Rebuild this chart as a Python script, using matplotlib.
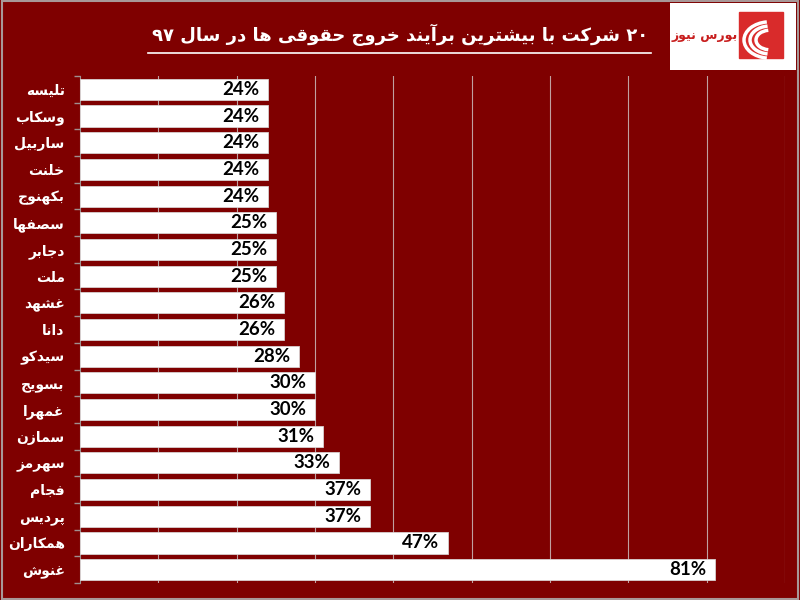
import numpy as np
import matplotlib
matplotlib.use('Agg')
import matplotlib.pyplot as plt
from matplotlib.patches import Rectangle, Arc
from matplotlib.lines import Line2D

# arabic letter -> presentation forms: isolated, final, initial, medial
FORMS = {
    0x0627: (0xFE8D, 0xFE8E, None, None),
    0x0622: (0xFE81, 0xFE82, None, None),
    0x0628: (0xFE8F, 0xFE90, 0xFE91, 0xFE92),
    0x067E: (0xFB56, 0xFB57, 0xFB58, 0xFB59),
    0x062A: (0xFE95, 0xFE96, 0xFE97, 0xFE98),
    0x062C: (0xFE9D, 0xFE9E, 0xFE9F, 0xFEA0),
    0x062D: (0xFEA1, 0xFEA2, 0xFEA3, 0xFEA4),
    0x062E: (0xFEA5, 0xFEA6, 0xFEA7, 0xFEA8),
    0x062F: (0xFEA9, 0xFEAA, None, None),
    0x0631: (0xFEAD, 0xFEAE, None, None),
    0x0632: (0xFEAF, 0xFEB0, None, None),
    0x0633: (0xFEB1, 0xFEB2, 0xFEB3, 0xFEB4),
    0x0634: (0xFEB5, 0xFEB6, 0xFEB7, 0xFEB8),
    0x0635: (0xFEB9, 0xFEBA, 0xFEBB, 0xFEBC),
    0x063A: (0xFECD, 0xFECE, 0xFECF, 0xFED0),
    0x0641: (0xFED1, 0xFED2, 0xFED3, 0xFED4),
    0x0642: (0xFED5, 0xFED6, 0xFED7, 0xFED8),
    0x06A9: (0xFB8E, 0xFB8F, 0xFB90, 0xFB91),
    0x0644: (0xFEDD, 0xFEDE, 0xFEDF, 0xFEE0),
    0x0645: (0xFEE1, 0xFEE2, 0xFEE3, 0xFEE4),
    0x0646: (0xFEE5, 0xFEE6, 0xFEE7, 0xFEE8),
    0x0647: (0xFEE9, 0xFEEA, 0xFEEB, 0xFEEC),
    0x0648: (0xFEED, 0xFEEE, None, None),
    0x06CC: (0xFBFC, 0xFBFD, 0xFBFE, 0xFBFF),
}

def shape(word):
    codes = [ord(c) for c in word]
    out = []
    n = len(codes)
    for i, c in enumerate(codes):
        if c not in FORMS:
            out.append(chr(c))
            continue
        iso, fin, ini, med = FORMS[c]
        prev = codes[i-1] if i > 0 else None
        nxt = codes[i+1] if i < n-1 else None
        jp = prev in FORMS and FORMS[prev][2] is not None
        jn = nxt in FORMS and ini is not None
        if jp and jn:
            out.append(chr(med))
        elif jp:
            out.append(chr(fin))
        elif jn:
            out.append(chr(ini))
        else:
            out.append(chr(iso))
    return out

def fa(text):
    # shape then reverse for display, keeping digit runs left-to-right
    vis, run = [], []
    for c in reversed(shape(text)):
        if c.isdigit():
            run.append(c)
        else:
            if run:
                vis.extend(reversed(run))
                run = []
            vis.append(c)
    if run:
        vis.extend(reversed(run))
    return ''.join(vis)

title = ('\u06f2\u06f0 \u0634\u0631\u06a9\u062a \u0628\u0627 '
         '\u0628\u06cc\u0634\u062a\u0631\u06cc\u0646 '
         '\u0628\u0631\u0622\u06cc\u0646\u062f \u062e\u0631\u0648\u062c '
         '\u062d\u0642\u0648\u0642\u06cc \u0647\u0627 \u062f\u0631 '
         '\u0633\u0627\u0644 \u06f9\u06f7')
names = ['\u062a\u0644\u06cc\u0633\u0647',
         '\u0648\u0633\u06a9\u0627\u0628',
         '\u0633\u0627\u0631\u0628\u06cc\u0644',
         '\u062e\u0644\u0646\u062a',
         '\u0628\u06a9\u0647\u0646\u0648\u062c',
         '\u0633\u0635\u0641\u0647\u0627',
         '\u062f\u062c\u0627\u0628\u0631',
         '\u0645\u0644\u062a',
         '\u063a\u0634\u0647\u062f',
         '\u062f\u0627\u0646\u0627',
         '\u0633\u06cc\u062f\u06a9\u0648',
         '\u0628\u0633\u0648\u06cc\u062c',
         '\u063a\u0645\u0647\u0631\u0627',
         '\u0633\u0645\u0627\u0632\u0646',
         '\u0633\u0647\u0631\u0645\u0632',
         '\u0641\u062c\u0627\u0645',
         '\u067e\u0631\u062f\u06cc\u0633',
         '\u0647\u0645\u06a9\u0627\u0631\u0627\u0646',
         '\u063a\u0646\u0648\u0634']
values = [24, 24, 24, 24, 24, 25, 25, 25, 26, 26, 28, 30, 30, 31, 33, 37, 37, 47, 81]
logo_text = '\u0628\u0648\u0631\u0633 \u0646\u06cc\u0648\u0632'

bg = '#7f0000'
fig = plt.figure(figsize=(8, 6), dpi=100, facecolor=bg)
ax = fig.add_axes([80/800, 1-583/600, 705/800, 507/600])
ax.set_facecolor(bg)

y = np.arange(len(names))
ax.barh(y, values, height=0.79, color='white', edgecolor='#d8d0d0', linewidth=0.6, zorder=3)
for yi, v in zip(y, values):
    ax.text(v - 1.1, yi, f'{v}%', ha='right', va='center', fontsize=13.5,
            fontweight='bold', family='Lato', color='black', zorder=4)

ax.set_xlim(0, 90)
ax.set_ylim(len(names) - 0.5, -0.5)
ax.set_xticks(np.arange(10, 91, 10))
ax.tick_params(axis='x', length=0, labelbottom=False)
ax.grid(axis='x', color='#c0a0a0', linewidth=0.8, zorder=1)

ax.set_yticks(y)
ax.set_yticklabels([fa(n) for n in names], family='DejaVu Sans', fontweight='bold',
                   fontsize=10, color='white')
ax.set_yticks(np.arange(-0.5, len(names), 1), minor=True)
ax.tick_params(axis='y', which='major', length=0, pad=11)
ax.tick_params(axis='y', which='minor', length=4, color='#a09090', width=1)
for s in ['top', 'right', 'bottom']:
    ax.spines[s].set_visible(False)
ax.spines['left'].set_color('#a09090')

# title + underline
fig.text(400/800, 1-35/600, fa(title), ha='center', va='center', color='white',
         fontsize=13, fontweight='bold', family='DejaVu Sans')
fig.add_artist(Line2D([148/800, 651/800], [1-53/600, 1-53/600], color='white', linewidth=1.2))

# logo
lg = fig.add_axes([670/800, 1-70/600, 126/800, 67/600])
lg.set_xlim(0, 126)
lg.set_ylim(0, 67)
lg.set_facecolor('white')
lg.set_xticks([])
lg.set_yticks([])
for s in lg.spines.values():
    s.set_visible(False)
lg.add_patch(Rectangle((69, 12), 44, 46, color='#d92b2b', zorder=1))
for r in [14, 20, 26]:
    lg.add_patch(Arc((100, 30), 2*r, 1.4*r, theta1=100, theta2=260, color='white',
                     linewidth=2.5, zorder=2))
lg.text(35, 35, fa(logo_text), ha='center', va='center', color='#c81e1e',
        fontsize=9, fontweight='bold', family='DejaVu Sans', zorder=5)

fig.add_artist(Rectangle((0.002, 0.002), 0.996, 0.996, transform=fig.transFigure,
                         fill=False, edgecolor='#a89898', linewidth=1.5))

fig.savefig('out.png', dpi=100, facecolor=bg)
